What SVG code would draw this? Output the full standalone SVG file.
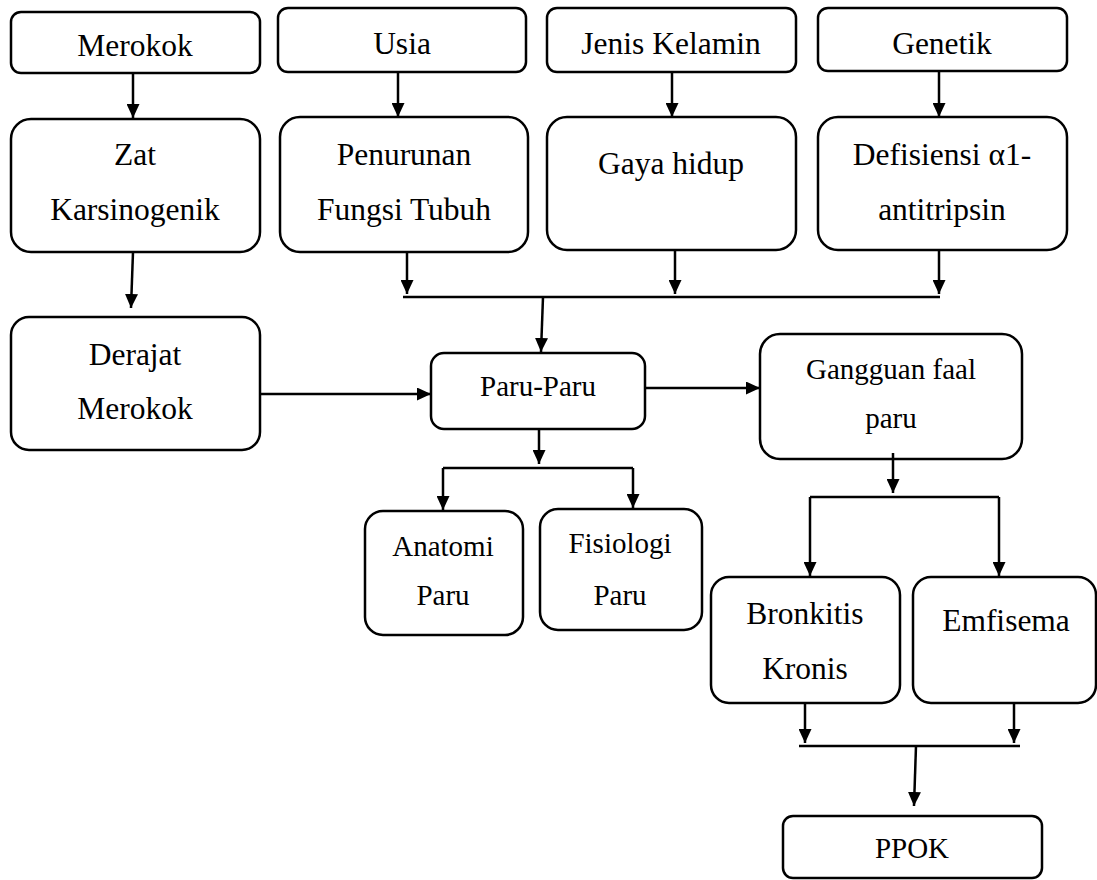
<svg xmlns="http://www.w3.org/2000/svg" width="1097" height="880" viewBox="0 0 1097 880">
<style>
.box{fill:#fff;stroke:#000;stroke-width:2.5}
.t{font-family:"Liberation Serif","Times New Roman",serif;font-size:31.5px;text-anchor:middle;fill:#000}
.s{font-size:29px}
.c line{stroke:#000;stroke-width:2.5}
.a{marker-end:url(#ah)}
</style>
<defs>
<marker id="ah" viewBox="0 0 14 13" refX="14" refY="6.5" markerWidth="14" markerHeight="13" markerUnits="userSpaceOnUse" orient="auto">
<path d="M0,0 L14,6.5 L0,13 z" fill="#000"/>
</marker>
</defs>
<rect width="1097" height="880" fill="#fff"/>
<g id="merokok"><rect class="box" x="11" y="12" width="249" height="61" rx="10"/><text class="t" x="135" y="56">Merokok</text></g>
<g id="usia"><rect class="box" x="278" y="8" width="248" height="64" rx="10"/><text class="t" x="402" y="54">Usia</text></g>
<g id="jenis-kelamin"><rect class="box" x="547" y="8" width="249" height="64" rx="10"/><text class="t" x="671" y="54">Jenis Kelamin</text></g>
<g id="genetik"><rect class="box" x="818" y="8" width="249" height="63" rx="10"/><text class="t" x="942" y="54">Genetik</text></g>
<g id="zat"><rect class="box" x="11" y="119" width="249" height="133" rx="20"/><text class="t" x="135" y="165">Zat</text><text class="t" x="135" y="220">Karsinogenik</text></g>
<g id="penurunan"><rect class="box" x="280" y="117" width="248" height="135" rx="20"/><text class="t" x="404" y="165">Penurunan</text><text class="t" x="404" y="220">Fungsi Tubuh</text></g>
<g id="gaya-hidup"><rect class="box" x="547" y="117" width="249" height="133" rx="20"/><text class="t" x="671" y="174">Gaya hidup</text></g>
<g id="defisiensi"><rect class="box" x="818" y="117" width="249" height="133" rx="20"/><text class="t" x="942" y="165">Defisiensi α1-</text><text class="t" x="942" y="220">antitripsin</text></g>
<g id="derajat"><rect class="box" x="11" y="317" width="249" height="133" rx="18"/><text class="t" x="135" y="365">Derajat</text><text class="t" x="135" y="419">Merokok</text></g>
<g id="paru-paru"><rect class="box" x="431" y="353" width="214" height="76" rx="13"/><text class="t s" x="538" y="396">Paru-Paru</text></g>
<g id="gangguan"><rect class="box" x="760" y="334" width="262" height="125" rx="20"/><text class="t s" x="891" y="379">Gangguan faal</text><text class="t s" x="891" y="428">paru</text></g>
<g id="anatomi"><rect class="box" x="365" y="511" width="158" height="124" rx="18"/><text class="t s" x="443" y="556">Anatomi</text><text class="t s" x="443" y="605">Paru</text></g>
<g id="fisiologi"><rect class="box" x="540" y="509" width="162" height="121" rx="18"/><text class="t s" x="620" y="553">Fisiologi</text><text class="t s" x="620" y="605">Paru</text></g>
<g id="bronkitis"><rect class="box" x="711" y="577" width="189" height="126" rx="18"/><text class="t" x="805" y="624">Bronkitis</text><text class="t" x="805" y="679">Kronis</text></g>
<g id="emfisema"><rect class="box" x="913" y="577" width="183" height="126" rx="18"/><text class="t" x="1006" y="631">Emfisema</text></g>
<g id="ppok"><rect class="box" x="783" y="816" width="259" height="62" rx="10"/><text class="t s" x="912" y="858">PPOK</text></g>
<g class="c">
<line class="a" x1="133" y1="73" x2="133" y2="118"/>
<line class="a" x1="398" y1="72" x2="398" y2="117"/>
<line class="a" x1="672" y1="72" x2="672" y2="117"/>
<line class="a" x1="939" y1="71" x2="939" y2="117"/>
<line class="a" x1="133" y1="252" x2="131" y2="308"/>
<line class="a" x1="407" y1="252" x2="407" y2="294"/>
<line class="a" x1="675" y1="250" x2="675" y2="294"/>
<line class="a" x1="939" y1="250" x2="939" y2="294"/>
<line x1="403" y1="297" x2="940" y2="297"/>
<line class="a" x1="543" y1="297" x2="541" y2="352"/>
<line class="a" x1="260" y1="394" x2="431" y2="394"/>
<line class="a" x1="645" y1="388" x2="760" y2="388"/>
<line class="a" x1="539" y1="429" x2="539" y2="464"/>
<line x1="443" y1="468" x2="633" y2="468"/>
<line class="a" x1="443" y1="468" x2="443" y2="510"/>
<line class="a" x1="633" y1="468" x2="633" y2="508"/>
<line class="a" x1="893" y1="453" x2="893" y2="493"/>
<line x1="810" y1="497" x2="999" y2="497"/>
<line class="a" x1="810" y1="497" x2="810" y2="576"/>
<line class="a" x1="999" y1="497" x2="999" y2="576"/>
<line class="a" x1="805" y1="703" x2="805" y2="743"/>
<line class="a" x1="1014" y1="703" x2="1014" y2="743"/>
<line x1="799" y1="746" x2="1020" y2="746"/>
<line class="a" x1="916" y1="746" x2="914" y2="806"/>
</g>
</svg>
